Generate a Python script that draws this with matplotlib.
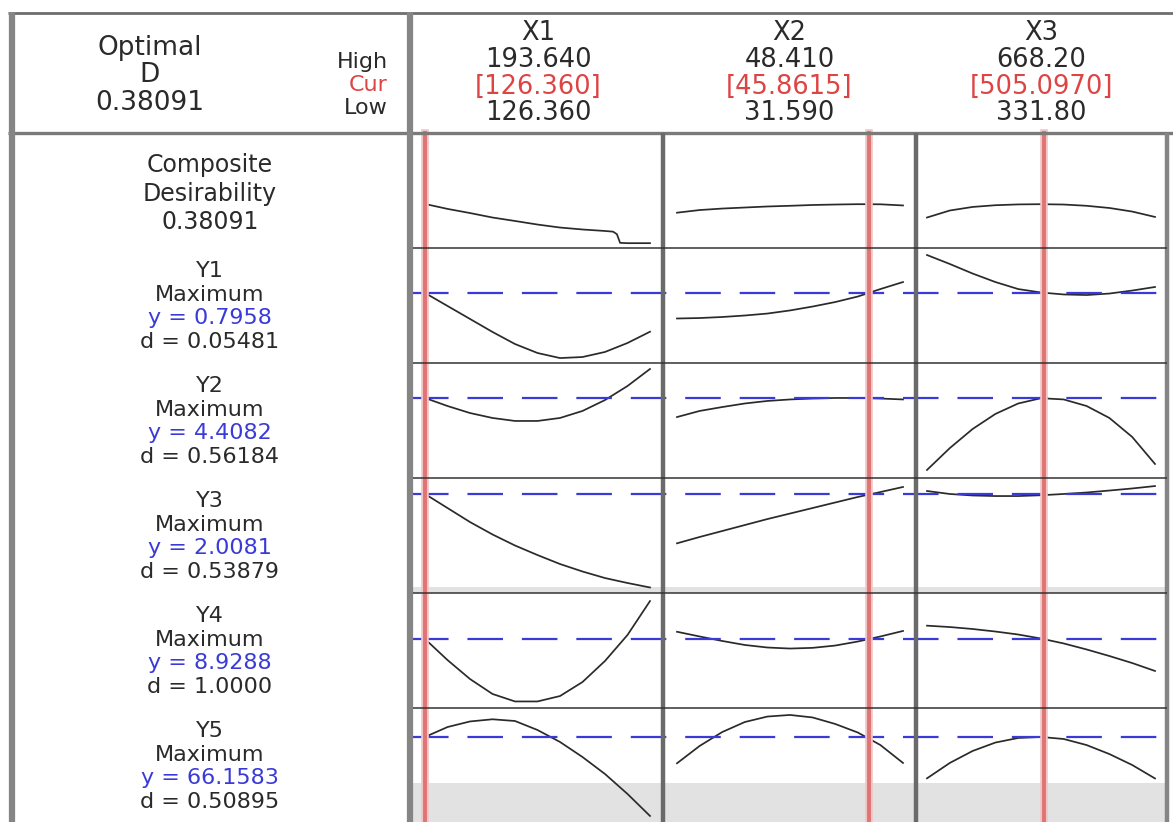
import numpy as np
import matplotlib.pyplot as plt
from matplotlib.lines import Line2D
from matplotlib.transforms import blended_transform_factory

plt.rcParams['font.family'] = ['DejaVu Sans']

# Factors (settings shown in the header)
factors = ['X1', 'X2', 'X3']
high = [193.640, 48.410, 668.20]
low = [126.360, 31.590, 331.80]
cur = [126.360, 45.8615, 505.0970]
high_txt = ['193.640', '48.410', '668.20']
cur_txt = ['[126.360]', '[45.8615]', '[505.0970]']
low_txt = ['126.360', '31.590', '331.80']

# Responses (left labels)
D_opt = '0.38091'
responses = ['Y1', 'Y2', 'Y3', 'Y4', 'Y5']
goals = ['Maximum', 'Maximum', 'Maximum', 'Maximum', 'Maximum']
y_pred = ['0.7958', '4.4082', '2.0081', '8.9288', '66.1583']
d_val = ['0.05481', '0.56184', '0.53879', '1.0000', '0.50895']

# profile heights (0 = bottom of cell, 1 = top)
# sampled at 11 evenly spaced settings from Low to High
grid_t = np.linspace(0, 1, 11)

comp_x1_t = [0, .1, .2, .3, .4, .5, .6, .7, .8, .836, .853, .867, .9, 1.0]
comp_x1 = [0.383, 0.34, 0.304, 0.265, 0.235, 0.204, 0.178, 0.161, 0.148,
           0.142, 0.12, 0.045, 0.042, 0.042]
comp_prof = [None,
             [0.307, 0.33, 0.343, 0.352, 0.361, 0.367, 0.374, 0.378, 0.381, 0.38, 0.37],
             [0.265, 0.326, 0.357, 0.372, 0.379, 0.381, 0.378, 0.367, 0.348, 0.317, 0.27]]

y1_prof = [[0.609, 0.496, 0.383, 0.27, 0.165, 0.087, 0.043, 0.052, 0.096, 0.174, 0.272],
           [0.387, 0.391, 0.4, 0.413, 0.43, 0.457, 0.491, 0.53, 0.578, 0.643, 0.704],
           [0.939, 0.861, 0.778, 0.704, 0.643, 0.613, 0.596, 0.591, 0.604, 0.63, 0.661]]
y2_prof = [[0.696, 0.626, 0.565, 0.522, 0.496, 0.496, 0.522, 0.583, 0.678, 0.8, 0.948],
           [0.53, 0.583, 0.617, 0.648, 0.67, 0.683, 0.691, 0.696, 0.696, 0.691, 0.683],
           [0.07, 0.26, 0.426, 0.557, 0.648, 0.694, 0.683, 0.626, 0.522, 0.357, 0.122]]
y3_prof = [[0.861, 0.739, 0.617, 0.509, 0.413, 0.33, 0.252, 0.187, 0.13, 0.087, 0.048],
           [0.432, 0.487, 0.539, 0.591, 0.643, 0.691, 0.739, 0.787, 0.835, 0.878, 0.922],
           [0.887, 0.861, 0.848, 0.843, 0.843, 0.85, 0.861, 0.874, 0.891, 0.909, 0.93]]
y4_prof = [[0.6, 0.417, 0.252, 0.122, 0.057, 0.057, 0.104, 0.226, 0.409, 0.635, 0.93],
           [0.663, 0.622, 0.583, 0.548, 0.526, 0.517, 0.523, 0.543, 0.578, 0.622, 0.67],
           [0.716, 0.704, 0.687, 0.665, 0.639, 0.604, 0.561, 0.509, 0.452, 0.391, 0.322]]
y5_prof = [[0.746, 0.833, 0.882, 0.901, 0.886, 0.807, 0.702, 0.57, 0.421, 0.246, 0.053],
           [0.515, 0.667, 0.789, 0.877, 0.925, 0.939, 0.917, 0.86, 0.785, 0.675, 0.518],
           [0.383, 0.518, 0.623, 0.697, 0.737, 0.746, 0.728, 0.675, 0.596, 0.5, 0.382]]
resp_prof = [y1_prof, y2_prof, y3_prof, y4_prof, y5_prof]

# predicted response level (blue dashed) and grey band height, per response
y_level = [0.609, 0.696, 0.861, 0.60, 0.745]
shade_top = [0, 0, 0.052, 0, 0.342]

# layout in pixels
W, H = 1173, 822
col_edges = [(413, 663), (663, 916), (916, 1167)]
data_edges = [(425, 650), (677, 903), (927, 1155)]
row_tops = [133, 248, 363, 478, 593, 708]
row_h = 115

dark = '#2a2a2a'
red = '#dd4444'
blue = '#3a3ad8'

fig = plt.figure(figsize=(W / 100, H / 100), dpi=100)
fig.patch.set_facecolor('white')


def fx(px):
    return px / W


def fy(py):
    return 1 - py / H


def fline(x0, y0, x1, y1, color, lw, z=4):
    fig.add_artist(Line2D([fx(x0), fx(x1)], [fy(y0), fy(y1)], color=color,
                          lw=lw, transform=fig.transFigure, zorder=z,
                          solid_capstyle='butt'))


def ftext(px, py, s, size, color=dark, ha='center'):
    fig.text(fx(px), fy(py), s, ha=ha, va='baseline', fontsize=size, color=color)


axes = []
for i in range(6):
    row = []
    top = row_tops[i]
    bot = min(top + row_h, H)
    for j in range(3):
        l, r = col_edges[j]
        dl, dr = data_edges[j]
        ax = fig.add_axes([fx(l), fy(bot), fx(r) - fx(l), fy(top) - fy(bot)])
        s = (high[j] - low[j]) / (dr - dl)
        ax.set_xlim(low[j] - (dl - l) * s, high[j] + (r - dr) * s)
        ax.set_ylim(0, 1)
        ax.axis('off')
        xs = low[j] + grid_t * (high[j] - low[j])
        if i == 0:
            if j == 0:
                xs = low[j] + np.array(comp_x1_t) * (high[j] - low[j])
                ys = comp_x1
            else:
                ys = comp_prof[j]
        else:
            ys = resp_prof[i - 1][j]
            if shade_top[i - 1] > 0:
                ax.axhspan(0, shade_top[i - 1], color='#e2e2e2', lw=0, zorder=0)
        ax.plot(xs, ys, color=dark, lw=1.25, zorder=3)
        row.append(ax)
    axes.append(row)

# blue dashed lines for predicted responses
for i in range(5):
    ax = axes[i + 1][0]
    tr = blended_transform_factory(fig.transFigure, ax.transData)
    fig.add_artist(Line2D([fx(413), fx(1167)], [y_level[i], y_level[i]], color=blue,
                          lw=1.6, dashes=(16, 8.5), transform=tr, zorder=2.5))

# red vertical lines at current settings
for j in range(3):
    ax = axes[0][j]
    tr = blended_transform_factory(ax.transData, fig.transFigure)
    fig.add_artist(Line2D([cur[j], cur[j]], [fy(133), fy(822)], color='#f3c4c4',
                          lw=5.5, transform=tr, zorder=2.6))
    fig.add_artist(Line2D([cur[j], cur[j]], [fy(133), fy(822)], color='#de7474',
                          lw=2.8, transform=tr, zorder=2.7))

# frames
frame = '#858585'
fline(8, 13, 1173, 13, '#6e6e6e', 2.0)
fline(8, 133, 1173, 133, '#7a7a7a', 2.4)
fline(12, 12, 12, 822, frame, 4.5)
fline(410, 12, 410, 822, frame, 4.5)
for x in [663, 916]:
    fline(x, 133, x, 822, '#6a6a6a', 3.2)
fline(1167, 133, 1167, 822, frame, 3.2)
for y in row_tops[1:]:
    fline(413, y, 1167, y, '#333333', 1.1)

# header text
ftext(150, 55, 'Optimal', 19)
ftext(150, 82, 'D', 19)
ftext(150, 110, D_opt, 19)
ftext(388, 68, 'High', 16, ha='right')
ftext(388, 91, 'Cur', 16, color=red, ha='right')
ftext(388, 114, 'Low', 16, ha='right')

for j in range(3):
    xc = (col_edges[j][0] + col_edges[j][1]) / 2
    ftext(xc, 40, factors[j], 18.5)
    ftext(xc, 67, high_txt[j], 18.5)
    ftext(xc, 93.5, cur_txt[j], 18.5, color=red)
    ftext(xc, 120, low_txt[j], 18.5)

# left labels
ftext(210, 172, 'Composite', 17)
ftext(210, 201, 'Desirability', 17)
ftext(210, 229, D_opt, 17)
for i in range(5):
    top = row_tops[i + 1]
    ftext(210, top + 29, responses[i], 16)
    ftext(210, top + 52.5, goals[i], 16)
    ftext(210, top + 76, 'y = ' + y_pred[i], 16, color=blue)
    ftext(210, top + 99.5, 'd = ' + d_val[i], 16)

fig.savefig('out.png', dpi=100)
